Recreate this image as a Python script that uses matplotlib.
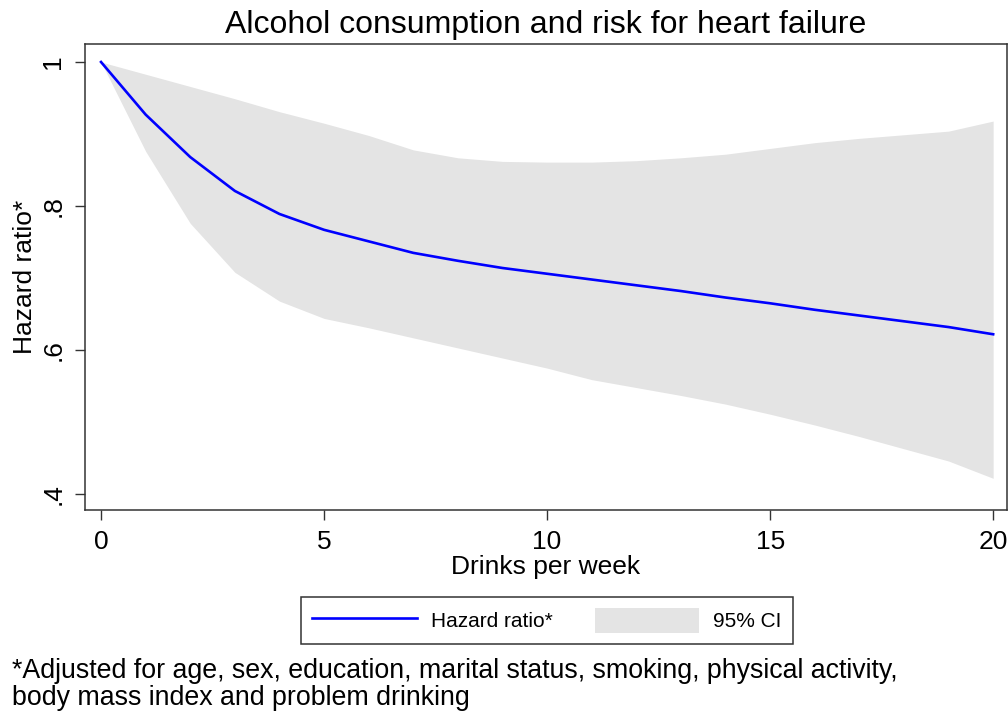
import numpy as np
import matplotlib.pyplot as plt

plt.rcParams['font.family'] = ['Liberation Sans', 'DejaVu Sans']

drinks = [0, 1, 2, 3, 4, 5, 6, 7, 8, 9, 10, 11, 12, 13, 14, 15, 16, 17, 18, 19, 20]
hazard = [1.0, 0.927, 0.868, 0.821, 0.789, 0.767, 0.751, 0.735, 0.724, 0.714, 0.706,
          0.698, 0.690, 0.682, 0.673, 0.665, 0.656, 0.648, 0.640, 0.632, 0.622]
ci_upper = [1.0, 0.983, 0.966, 0.949, 0.931, 0.915, 0.898, 0.878, 0.867, 0.862, 0.861,
            0.861, 0.863, 0.867, 0.872, 0.880, 0.888, 0.894, 0.899, 0.904, 0.918]
ci_lower = [1.0, 0.876, 0.776, 0.708, 0.668, 0.644, 0.631, 0.617, 0.603, 0.589, 0.575,
            0.559, 0.548, 0.537, 0.525, 0.511, 0.496, 0.480, 0.463, 0.446, 0.422]

xticks = [0, 5, 10, 15, 20]
yticks = [0.4, 0.6, 0.8, 1.0]
yticklabels = ['.4', '.6', '.8', '1']

fig = plt.figure(figsize=(10.08, 7.13), dpi=100)
ax = fig.add_axes([0.0843, 0.2847, 0.9147, 0.6536])

ci = ax.fill_between(drinks, ci_lower, ci_upper, color='#e4e4e4', linewidth=0,
                     label='95% CI')
line, = ax.plot(drinks, hazard, color='#0000ff', linewidth=1.9, label='Hazard ratio*')

ax.set_xlim(-0.36, 20.31)
ax.set_ylim(0.378, 1.025)
ax.set_xticks(xticks)
ax.set_yticks(yticks)
ax.set_yticklabels(yticklabels, rotation=90, va='center')
ax.tick_params(labelsize=19, length=7.2, width=1, colors='#333333', labelcolor='black')
ax.tick_params(axis='x', pad=7)
ax.tick_params(axis='y', pad=7)
for s in ax.spines.values():
    s.set_linewidth(1.1)
    s.set_color('#333333')

ax.set_title('Alcohol consumption and risk for heart failure', fontsize=23, pad=8)
ax.set_xlabel('Drinks per week', fontsize=19, labelpad=1)
ax.set_ylabel('Hazard ratio*', fontsize=19, labelpad=3)

leg = fig.legend([line, ci], ['Hazard ratio*', '95% CI'], loc='center',
                 bbox_to_anchor=(0.5427, 0.1297), ncol=2, fontsize=15,
                 handlelength=5.0, handleheight=1.45, handletextpad=0.7,
                 columnspacing=2.0, borderpad=0.55, fancybox=False,
                 framealpha=1, edgecolor='#333333')
leg.get_frame().set_linewidth(1.1)

fig.text(0.012, 0.04, '*Adjusted for age, sex, education, marital status, smoking, physical activity,\n'
         'body mass index and problem drinking', fontsize=19.3, va='center', ha='left',
         linespacing=1.03)

fig.savefig('out.png', dpi=100)
